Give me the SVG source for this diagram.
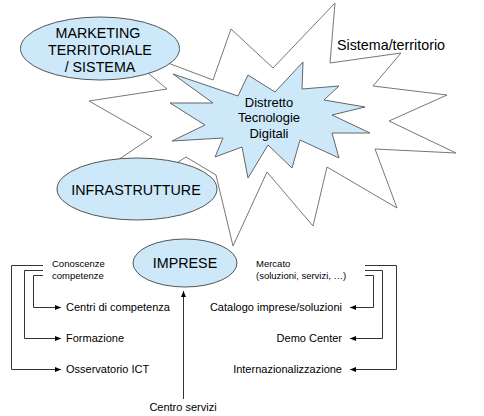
<svg xmlns="http://www.w3.org/2000/svg" width="484" height="416" viewBox="0 0 484 416">
<style>
  text { font-family: "Liberation Sans", Arial, sans-serif; fill: #000; }
  .node { fill: #cde9f9; stroke: #555; stroke-width: 1; }
  .star-out { fill: #fff; stroke: #777; stroke-width: 1; stroke-linejoin: miter; }
  .star-in { fill: #cde9f9; stroke: #666; stroke-width: 1; }
  .big { font-size: 14.3px; }
  .mid { font-size: 13px; }
  .lbl { font-size: 11px; }
  .sml { font-size: 9.5px; }
  .conn { fill: none; stroke: #333; stroke-width: 1; }
</style>
<defs>
  <marker id="ah" viewBox="0 0 6 6" refX="6" refY="3" markerWidth="6" markerHeight="6" markerUnits="userSpaceOnUse" orient="auto">
    <path d="M0,0.5 L6,3 L0,5.5 Z" fill="#000"/>
  </marker>
</defs>
<rect width="484" height="416" fill="#fff"/>

<g id="sistema-territorio">
  <polygon class="star-out" points="160,60 213,80 231,29 273,68 335,3 330,63 401,53 373,86 447,95 389,121 456,153 375,149 397,208 327,167 313,226 267,172 233,246 216,175 186,157 150,180 100,172 152,137 89,101 167,89 148,73"/>
  <text class="big" x="337" y="50">Sistema/territorio</text>
</g>

<g id="distretto">
  <polygon class="star-in" points="303,62 302,89 339,86 324,100 365,107 332,115 370,133 332,133 339,158 300,140 292,168 268,145 248,178 242,147 215,157 223,138 172,141 205,125 170,103 213,103 173,74 238,96 248,75 275,92"/>
  <text class="mid" text-anchor="middle" x="269" y="107">Distretto</text>
  <text class="mid" text-anchor="middle" x="269" y="122">Tecnologie</text>
  <text class="mid" text-anchor="middle" x="269" y="138">Digitali</text>
</g>

<g id="marketing">
  <ellipse class="node" cx="100" cy="48.5" rx="79.5" ry="31.5"/>
  <text class="big" text-anchor="middle" x="98" y="38">MARKETING</text>
  <text class="big" text-anchor="middle" x="100" y="55">TERRITORIALE</text>
  <text class="big" text-anchor="middle" x="100" y="72">/ SISTEMA</text>
</g>

<g id="infrastrutture">
  <ellipse class="node" cx="137" cy="189" rx="80" ry="31"/>
  <text class="big" text-anchor="middle" x="136" y="195">INFRASTRUTTURE</text>
</g>

<g id="imprese">
  <ellipse class="node" cx="185" cy="263" rx="52" ry="24"/>
  <text class="big" text-anchor="middle" x="185" y="268">IMPRESE</text>
</g>

<g id="conoscenze">
  <text class="sml" x="52" y="267">Conoscenze</text>
  <text class="sml" x="52" y="279">competenze</text>
</g>
<g id="mercato">
  <text class="sml" x="256" y="267">Mercato</text>
  <text class="sml" x="256" y="279">(soluzioni, servizi, …)</text>
</g>

<g id="centri"><text class="lbl" x="66" y="311">Centri di competenza</text></g>
<g id="formazione"><text class="lbl" x="66" y="342">Formazione</text></g>
<g id="osservatorio"><text class="lbl" x="66" y="373">Osservatorio ICT</text></g>
<g id="catalogo"><text class="lbl" text-anchor="end" x="342" y="311">Catalogo imprese/soluzioni</text></g>
<g id="demo"><text class="lbl" text-anchor="end" x="342" y="342">Demo Center</text></g>
<g id="internazionalizzazione"><text class="lbl" text-anchor="end" x="342" y="373">Internazionalizzazione</text></g>
<g id="centro-servizi"><text class="lbl" text-anchor="middle" x="183" y="411">Centro servizi</text></g>

<g id="connectors">
  <path class="conn" d="M43,265.5 H11.5 V369.5 H61" marker-end="url(#ah)"/>
  <path class="conn" d="M43,270.5 H24.5 V338.5 H61" marker-end="url(#ah)"/>
  <path class="conn" d="M43,275.5 H33.5 V307.5 H61" marker-end="url(#ah)"/>
  <path class="conn" d="M365,265.5 H396.5 V369.5 H350" marker-end="url(#ah)"/>
  <path class="conn" d="M365,270.5 H382.5 V338.5 H350" marker-end="url(#ah)"/>
  <path class="conn" d="M365,275.5 H373.5 V307.5 H350" marker-end="url(#ah)"/>
  <path class="conn" d="M183.5,399 V291" marker-end="url(#ah)"/>
</g>
</svg>
